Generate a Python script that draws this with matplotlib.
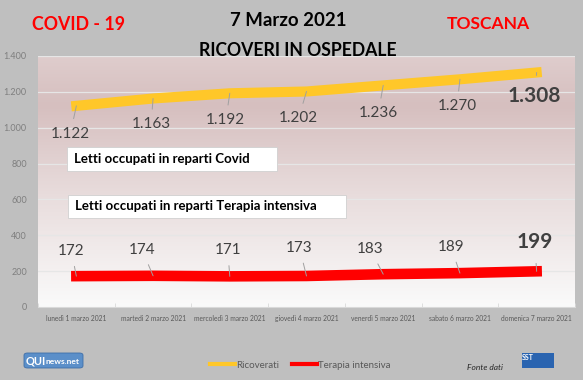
import numpy as np
import matplotlib
matplotlib.use("Agg")
from matplotlib import pyplot as plt
from matplotlib.colors import LinearSegmentedColormap
from matplotlib.patches import FancyBboxPatch, Rectangle

giorni = ["lunedì 1 marzo 2021", "martedì 2 marzo 2021", "mercoledì 3 marzo 2021",
          "giovedì 4 marzo 2021", "venerdì 5 marzo 2021", "sabato 6 marzo 2021",
          "domenica 7 marzo 2021"]
ricoverati = [1122, 1163, 1192, 1202, 1236, 1270, 1308]
terapia = [172, 174, 171, 173, 183, 189, 199]
ytick_vals = [0, 200, 400, 600, 800, 1000, 1200, 1400]

# label offsets in pixels (dx, dy)
off_ric = [(-6, -28), (-2, -26), (-4, -27), (-8, -27), (-5, -28), (-3, -27), (-2, -24)]
off_ti = [(-5, 25), (-11, 26), (-2, 26), (-7, 28), (-13, 25), (-9, 26), (-2, 29)]

plt.rcParams['font.family'] = ['Lato', 'DejaVu Sans']

fig = plt.figure(figsize=(5.83, 3.80), dpi=100)
fig.patch.set_facecolor("#bfbfbf")
W, H = 583, 380
ax = fig.add_axes([38 / W, 1 - 307 / H, (575 - 38) / W, (307 - 56) / H])
ax.set_facecolor("none")

# gradient panel
cmap = LinearSegmentedColormap.from_list("pan", [(0, "#fafafa"), (0.45, "#e8dcdc"),
                                                 (0.8, "#d6bfbf"), (1, "#dfcdcd")])
grad = np.linspace(0, 1, 256).reshape(-1, 1)
ax.imshow(grad, cmap=cmap, aspect="auto", extent=(-0.5, 6.5, 1400, 0), zorder=0)

x = np.arange(len(giorni))
for v in ytick_vals[1:]:
    ax.axhline(v, color="#e6e6e6", lw=0.9, zorder=1)

ax.plot(x, ricoverati, color="#ffc729", lw=7.3, solid_capstyle="projecting", zorder=3,
        label="Ricoverati")
ax.plot(x, terapia, color="#ff0000", lw=7.6, solid_capstyle="projecting", zorder=3,
        label="Terapia intensiva")

for i, v in enumerate(ricoverati):
    last = i == len(ricoverati) - 1
    ax.annotate(f"{v:,}".replace(",", "."), (x[i], v), xytext=off_ric[i],
                textcoords="offset pixels", ha="center", va="center",
                fontsize=15 if last else 11, fontweight="bold" if last else "normal",
                color="#404040",
                arrowprops=dict(arrowstyle="-", color="#a0a0a0", lw=0.7,
                                shrinkA=6 if last else 4, shrinkB=0), zorder=4)
for i, v in enumerate(terapia):
    last = i == len(terapia) - 1
    ax.annotate(str(v), (x[i], v), xytext=off_ti[i],
                textcoords="offset pixels", ha="center", va="center",
                fontsize=15 if last else 11, fontweight="bold" if last else "normal",
                color="#404040",
                arrowprops=dict(arrowstyle="-", color="#a0a0a0", lw=0.7,
                                shrinkA=6 if last else 4, shrinkB=0), zorder=4)

ax.set_xlim(-0.5, 6.5)
ax.set_ylim(0, 1400)
ax.set_yticks(ytick_vals)
ax.set_yticklabels([f"{v:,}".replace(",", ".") for v in ytick_vals])
ax.set_xticks(x)
ax.set_xticklabels(giorni)
ax.set_xticks(np.arange(-0.5, 7, 1), minor=True)
ax.tick_params(axis="x", which="major", length=0, labelsize=4.8, colors="#595959", pad=6)
ax.tick_params(axis="x", which="minor", length=3, color="#d9d9d9", direction="in")
ax.tick_params(axis="y", length=0, labelsize=6.5, colors="#7f7f7f", pad=8)
for s in ["top", "right", "left"]:
    ax.spines[s].set_visible(False)
ax.spines["bottom"].set_color("#d9d9d9")

# text boxes
for txt, (x0, y0, x1, y1) in [("Letti occupati in reparti Covid", (67, 147, 277, 171)),
                              ("Letti occupati in reparti Terapia intensiva", (68, 195, 346, 218))]:
    fig.patches.append(Rectangle((x0 / W, 1 - y1 / H), (x1 - x0) / W, (y1 - y0) / H,
                                 transform=fig.transFigure, facecolor="white",
                                 edgecolor="#d0d0d0", lw=0.6, zorder=5))
    fig.text((x0 + 7) / W, 1 - (y0 + y1) / 2 / H, txt, fontsize=9.5, fontweight="bold",
             color="black", va="center", ha="left", zorder=6)

# titles
fig.text(78 / W, 1 - 25 / H, "COVID - 19", color="#ff0000", fontsize=12.8, fontweight="bold",
         ha="center", va="center")
fig.text(288 / W, 1 - 20 / H, "7 Marzo 2021", color="black", fontsize=13.4, fontweight="bold",
         ha="center", va="center")
fig.text(488 / W, 1 - 24 / H, "TOSCANA", color="#ff0000", fontsize=12.6, fontweight="bold",
         ha="center", va="center")
fig.text(298 / W, 1 - 51 / H, "RICOVERI IN OSPEDALE", color="black", fontsize=12.7,
         fontweight="bold", ha="center", va="center")

# legend
fig.legend(loc="center", bbox_to_anchor=(300 / W, 1 - 365 / H), ncol=2, frameon=False,
           fontsize=7, handlelength=2.6, handletextpad=0.1, columnspacing=1.3,
           labelcolor="#595959")
for h in fig.legends[0].get_lines():
    h.set_linewidth(3)

fig.text(485 / W, 1 - 367 / H, "Fonte dati", fontsize=6, style="italic", color="#262626",
         ha="center", va="center")

# logos
fig.patches.append(FancyBboxPatch((24 / W, 1 - 368 / H), 59 / W, 15 / H,
                                  boxstyle="round,pad=0,rounding_size=0.006",
                                  transform=fig.transFigure, facecolor="#5b8fc9",
                                  edgecolor="#3e6ea8", lw=0.6))
fig.text(26 / W, 1 - 360.5 / H, "QUI", fontsize=8, fontweight="bold", color="white",
         va="center", ha="left")
fig.text(46 / W, 1 - 361 / H, "news.net", fontsize=6, fontweight="bold", color="white",
         va="center", ha="left")
fig.patches.append(Rectangle((522 / W, 1 - 368 / H), 32 / W, 15 / H,
                             transform=fig.transFigure, facecolor="#2a64b0",
                             edgecolor="none"))
fig.text(528 / W, 1 - 357 / H, "SST", fontsize=5, fontweight="bold", color="white",
         va="center", ha="center")

fig.savefig("out.png", dpi=100, facecolor=fig.get_facecolor())
